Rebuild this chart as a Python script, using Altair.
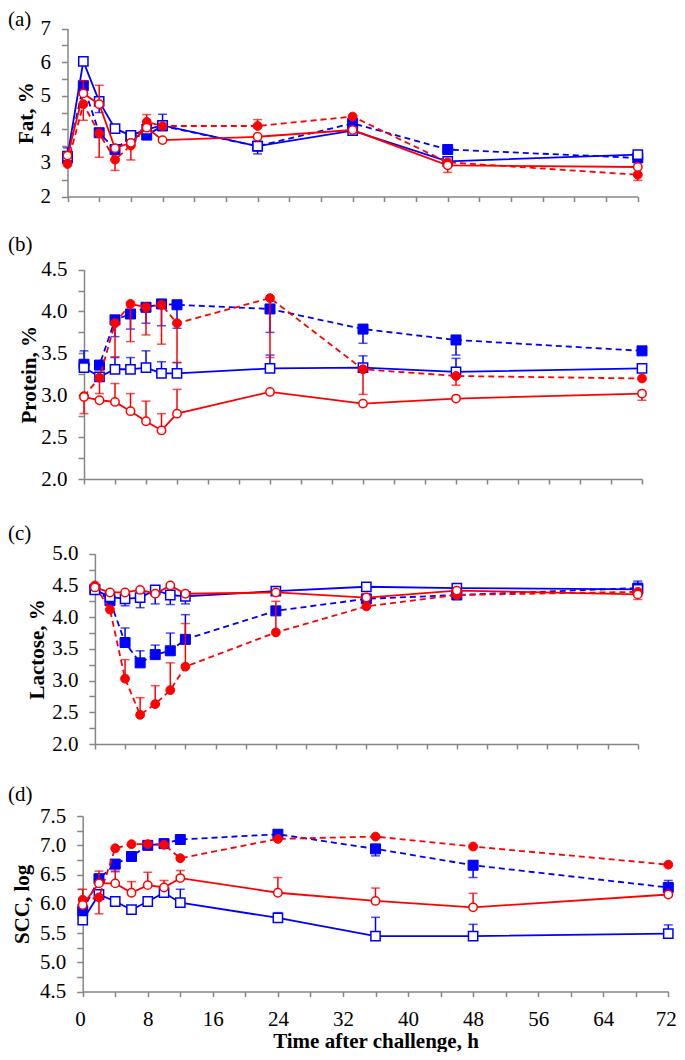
import altair as alt
import pandas as pd

SERIF = "Liberation Serif"
BLUE = "#0000FF"
RED = "#FF0000"
AXIS_GRAY = "#868686"

# ---------------- data ----------------
TIME = [0, 2, 4, 6, 8, 10, 12, 24, 36, 48, 72]
X_TICKS = [0, 4, 8, 12, 16, 20, 24, 28, 32, 36, 40, 44, 48, 52, 56, 60, 64, 68, 72]

SERIES = ["Blue, filled", "Blue, open", "Red, filled", "Red, open"]

# (a) Fat, %
FAT_BF = [3.15, 5.30, 3.90, 3.40, 3.78, 3.83, 4.10, 3.50, 4.18, 3.40, 3.15]
FAT_BF_ERR = [3.45, None, None, 3.27, None, None, None, 3.27, None, None, None]
FAT_BO = [3.20, 6.02, 4.83, 4.02, 3.82, 4.00, 4.12, 3.50, 3.96, 3.05, 3.25]
FAT_BO_ERR = [None, None, 4.50, None, None, None, 4.45, None, None, None, 3.36]
FAT_RF = [2.97, 4.75, 3.88, 3.10, 3.52, 4.22, 4.10, 4.10, 4.38, 3.02, 2.65]
FAT_RF_ERR = [None, 4.27, 3.17, 2.78, 3.09, 4.44, None, 4.29, None, 2.72, 2.48]
FAT_RO = [3.22, 5.07, 4.75, 3.44, 3.60, 4.05, 3.68, 3.78, 3.98, 2.93, 2.88]
FAT_RO_ERR = [None, 5.45, 5.31, None, None, None, None, None, None, None, None]
FAT_TICKS = [2, 2.5, 3, 3.5, 4, 4.5, 5, 5.5, 6, 6.5, 7]

# (b) Protein, %
PRO_BF = [3.37, 3.36, 3.90, 3.97, 4.05, 4.09, 4.08, 4.03, 3.79, 3.66, 3.53]
PRO_BF_ERR = [3.53, None, 3.70, 3.79, 3.86, 3.83, 3.80, 3.75, 3.62, 3.48, None]
PRO_BO = [3.33, 3.22, 3.31, 3.31, 3.33, 3.26, 3.26, 3.32, 3.33, 3.28, 3.32]
PRO_BO_ERR = [None, None, 3.45, 3.45, 3.53, 3.40, 3.39, 3.48, 3.47, 3.44, None]
PRO_RF = [2.99, 3.21, 3.86, 4.09, 4.05, 4.08, 3.86, 4.16, 3.31, 3.23, 3.20]
PRO_RF_ERR = [2.78, 3.02, 3.46, 3.64, 3.72, 3.61, 3.39, 3.45, 3.01, 3.12, None]
PRO_RO = [2.98, 2.94, 2.92, 2.81, 2.69, 2.58, 2.78, 3.04, 2.90, 2.96, 3.02]
PRO_RO_ERR = [None, None, 3.14, 3.02, 2.93, 2.78, 3.07, None, None, None, 2.94]
PRO_TICKS = [2, 2.25, 2.5, 2.75, 3, 3.25, 3.5, 3.75, 4, 4.25, 4.5]

# (c) Lactose, %
LAC_BF = [4.44, 4.26, 3.60, 3.28, 3.41, 3.47, 3.65, 4.10, 4.29, 4.35, 4.46]
LAC_BF_ERR = [None, None, 3.83, 3.47, 3.56, 3.75, 4.04, None, None, None, 4.57]
LAC_BO = [4.43, 4.32, 4.29, 4.31, 4.43, 4.35, 4.33, 4.41, 4.48, 4.46, 4.44]
LAC_BO_ERR = [None, None, 4.18, 4.15, 4.21, 4.20, 4.21, None, None, None, None]
LAC_RF = [4.50, 4.12, 3.03, 2.46, 2.63, 2.85, 3.22, 3.76, 4.17, 4.35, 4.40]
LAC_RF_ERR = [None, None, 3.33, 2.73, 2.92, 3.28, 3.90, 4.25, None, None, None]
LAC_RO = [4.47, 4.39, 4.39, 4.43, 4.37, 4.50, 4.37, 4.39, 4.31, 4.42, 4.36]
LAC_RO_ERR = [None, None, None, None, None, None, None, None, None, None, 4.28]
LAC_TICKS = [2, 2.25, 2.5, 2.75, 3, 3.25, 3.5, 3.75, 4, 4.25, 4.5, 4.75, 5]

# (d) SCC, log
SCC_BF = [5.88, 6.43, 6.68, 6.81, 7.00, 7.03, 7.10, 7.19, 6.94, 6.66, 6.28]
SCC_BF_ERR = [None, None, 6.55, None, None, None, None, None, 6.82, 6.45, 6.40]
SCC_BO = [5.72, 6.16, 6.04, 5.90, 6.04, 6.19, 6.02, 5.76, 5.45, 5.45, 5.49]
SCC_BO_ERR = [None, None, None, None, None, None, 6.25, 5.85, 5.77, 5.65, 5.64]
SCC_RF = [6.07, 6.11, 6.95, 7.02, 7.02, 7.01, 6.78, 7.11, 7.15, 6.98, 6.67]
SCC_RF_ERR = [None, 5.83, None, None, None, None, None, None, None, None, None]
SCC_RO = [5.98, 6.35, 6.35, 6.19, 6.32, 6.28, 6.44, 6.19, 6.05, 5.94, 6.16]
SCC_RO_ERR = [6.25, 6.56, 6.58, 6.38, 6.54, 6.40, 6.57, 6.45, 6.27, 6.18, None]
SCC_TICKS = [4.5, 4.75, 5, 5.25, 5.5, 5.75, 6, 6.25, 6.5, 6.75, 7, 7.25, 7.5]

# series styles: colour, shape, filled, dashed
STYLE = {
    "Blue, filled": (BLUE, "square", True, True),
    "Blue, open": (BLUE, "square", False, False),
    "Red, filled": (RED, "circle", True, True),
    "Red, open": (RED, "circle", False, False),
}

VIEW_W, VIEW_H = 669, 1044   # drawing area inside the 8px page margin


def panel(letter, ytitle, ydomain, yticks, label_expr, vals, errs,
          box, label_y, title_x, bottom=False):
    left, right, top, bot = box
    x_rng = [left, right]
    y_rng = [bot, top]
    if bottom:
        xaxis = alt.Axis(orient="bottom", offset=-(VIEW_H - bot), values=X_TICKS,
                         tickSize=5, labelPadding=12, labelBaseline="top",
                         labelFont=SERIF, labelFontSize=21,
                         labelFlush=True, labelFlushOffset=8,
                         labelExpr="datum.value % 8 == 0 ? datum.label : ''",
                         title="Time after challenge, h",
                         titleX=(left + right) / 2, titleY=50,
                         titleAlign="center", titleBaseline="middle")
    else:
        xaxis = alt.Axis(orient="bottom", offset=-(VIEW_H - bot), values=X_TICKS,
                         tickSize=5, labels=False, title=None)
    yaxis = alt.Axis(orient="left", offset=-left, values=yticks,
                     labelExpr=label_expr, tickSize=6, labelPadding=11,
                     labelBaseline="middle", labelFont=SERIF, labelFontSize=21,
                     title=ytitle, titleX=title_x, titleY=(top + bot) / 2,
                     titleAlign="center", titleBaseline="middle", titleAngle=270)
    xs = alt.Scale(domain=[0, 72], range=x_rng, nice=False, zero=False)
    ys = alt.Scale(domain=ydomain, range=y_rng, nice=False, zero=False)
    X = alt.X("t:Q", scale=xs, axis=xaxis)

    layers = []
    for name, v, e in zip(SERIES, vals, errs):
        color, shape, filled, dashed = STYLE[name]
        df = pd.DataFrame({"t": TIME, "v": v, "series": name})
        edf = pd.DataFrame({"t": TIME, "v": v, "e": e, "series": name}).dropna()
        line_kw = dict(color=color, strokeWidth=1.8)
        if dashed:
            line_kw["strokeDash"] = [6, 4]
        layers.append(alt.Chart(df).mark_line(**line_kw).encode(
            x=X, y=alt.Y("v:Q", scale=ys, axis=yaxis)))
        if len(edf):
            layers.append(alt.Chart(edf).mark_rule(color=color, strokeWidth=1.5).encode(
                x=X, y=alt.Y("v:Q", scale=ys, axis=yaxis), y2="e:Q"))
            layers.append(alt.Chart(edf).mark_tick(color=color, orient="horizontal",
                                                    size=9, thickness=1.5).encode(
                x=X, y=alt.Y("e:Q", scale=ys, axis=yaxis)))
        if filled:
            pt = alt.Chart(df).mark_point(shape=shape, filled=True, fill=color,
                                          stroke=color, strokeWidth=1, opacity=1,
                                          size=100 if shape == "square" else 78)
        else:
            pt = alt.Chart(df).mark_point(shape=shape, filled=True, fill="white",
                                          stroke=color, strokeWidth=1.5, opacity=1,
                                          fillOpacity=1,
                                          size=86 if shape == "square" else 70)
        layers.append(pt.encode(x=X, y=alt.Y("v:Q", scale=ys, axis=yaxis)))

    one = alt.Data(values=[{"k": 0}])
    label = alt.Chart(one).mark_text(text=letter, align="left", baseline="middle",
                                     font=SERIF, fontSize=21, color="black").encode(
        x=alt.value(0), y=alt.value(label_y))
    layers.append(label)
    return alt.layer(*layers)


def box(left, right, top, bottom):
    # page coordinates -> drawing-area coordinates (8px page margin)
    return (left - 8, right - 8, top - 8, bottom - 8)


fmt1 = "(datum.value * 2) % 1 == 0 ? format(datum.value, '.1f') : ''"
pa = panel("(a)", "Fat, %", [2, 7], FAT_TICKS,
           "datum.value % 1 == 0 ? format(datum.value, 'd') : ''",
           [FAT_BF, FAT_BO, FAT_RF, FAT_RO],
           [FAT_BF_ERR, FAT_BO_ERR, FAT_RF_ERR, FAT_RO_ERR],
           box(67.5, 637.8, 28.5, 196.6), label_y=11.5, title_x=-41.5)
pb = panel("(b)", "Protein, %", [2, 4.5], PRO_TICKS, fmt1,
           [PRO_BF, PRO_BO, PRO_RF, PRO_RO],
           [PRO_BF_ERR, PRO_BO_ERR, PRO_RF_ERR, PRO_RO_ERR],
           box(84, 642, 269.6, 479), label_y=237, title_x=-54.6)
pc = panel("(c)", "Lactose, %", [2, 5], LAC_TICKS, fmt1,
           [LAC_BF, LAC_BO, LAC_RF, LAC_RO],
           [LAC_BF_ERR, LAC_BO_ERR, LAC_RF_ERR, LAC_RO_ERR],
           box(94.9, 637.8, 553.8, 744), label_y=525.6, title_x=-57.9)
pd_ = panel("(d)", "SCC, log", [4.5, 7.5], SCC_TICKS, fmt1,
            [SCC_BF, SCC_BO, SCC_RF, SCC_RO],
            [SCC_BF_ERR, SCC_BO_ERR, SCC_RF_ERR, SCC_RO_ERR],
            box(82.7, 668.3, 816.1, 991.6), label_y=787, title_x=-59.9,
            bottom=True)

chart = alt.layer(pa, pb, pc, pd_).resolve_scale(
    x="independent", y="independent").properties(
    width=VIEW_W, height=VIEW_H, padding=0,
    autosize=alt.AutoSizeParams(type="none")).configure_view(
    stroke=None).configure_axis(
    domainColor=AXIS_GRAY, domainWidth=1.5, tickColor=AXIS_GRAY, tickWidth=1.5,
    labelFont=SERIF, labelFontSize=21, labelColor="black",
    titleFont=SERIF, titleFontSize=21, titleFontWeight="bold", titleColor="black",
    grid=False, labelOverlap=False, labelBound=False)

chart.save("out.html", embed_options={"renderer": "svg", "actions": False})
